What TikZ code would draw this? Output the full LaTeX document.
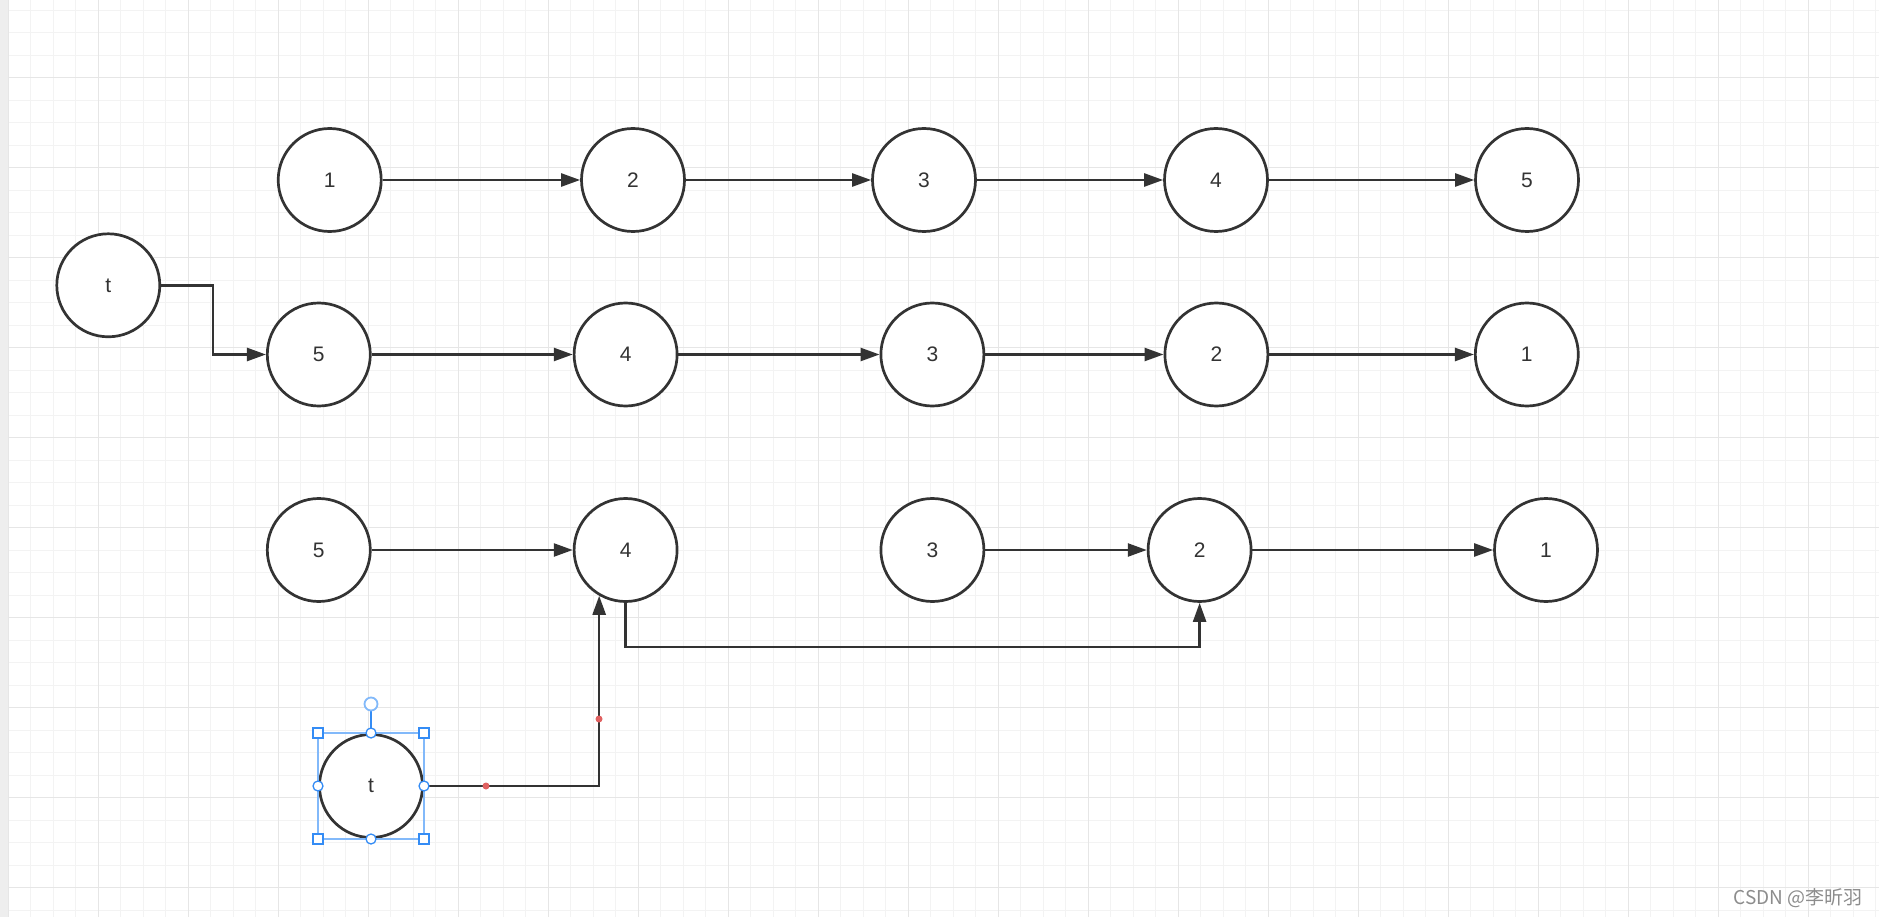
\documentclass[tikz,border=0pt]{standalone}
\usepackage{fontspec}
\setmainfont{Liberation Sans}
\newfontfamily\cjk{Noto Sans CJK SC}
\definecolor{LineColor}{RGB}{51,51,51}
\definecolor{MinorGrid}{RGB}{243,243,243}
\definecolor{MajorGrid}{RGB}{230,230,230}
\definecolor{SideColor}{RGB}{238,238,238}
\definecolor{HandleColor}{RGB}{52,140,245}
\definecolor{FrameColor}{RGB}{130,185,250}
\definecolor{DotColor}{RGB}{224,96,96}
\definecolor{MarkColor}{RGB}{140,140,140}
\usetikzlibrary{arrows.meta}
\tikzstyle{listnode} = [circle, draw=LineColor, line width=2.7pt, fill=white, minimum size=103pt, inner sep=0pt, text=LineColor, font=\fontsize{21}{24}\selectfont]
\tikzstyle{linkarrow} = [line width=2.5pt, LineColor, -{Triangle[length=19pt,width=13pt]}]
\tikzstyle{handlebox} = [draw=HandleColor, fill=white, line width=1.3pt]

\begin{document}
\begin{tikzpicture}[x=1pt, y=-1pt]
            \useasboundingbox (0,0) rectangle (1879,917);
            \fill[white] (0,0) rectangle (1879,917);

            % Grid
            \foreach \i in {0,...,83}
                \draw[MinorGrid, line width=1.2pt] ({8.3+22.5*\i},0) -- ++(0,917);
            \foreach \i in {0,...,41}
                \draw[MinorGrid, line width=1.2pt] (0,{10.2+22.5*\i}) -- ++(1879,0);
            \foreach \i in {0,...,20}
                \draw[MajorGrid, line width=1.3pt] ({8.3+90*\i},0) -- ++(0,917);
            \foreach \i in {0,...,10}
                \draw[MajorGrid, line width=1.3pt] (0,{77.7+90*\i}) -- ++(1879,0);
            \fill[SideColor] (0,0) rectangle (8,917);

            % First list
            \node[listnode] (a1) at (329.7,180) {1};
            \node[listnode] (a2) at (633,180) {2};
            \node[listnode] (a3) at (924,180) {3};
            \node[listnode] (a4) at (1216,180) {4};
            \node[listnode] (a5) at (1527,180) {5};
            \draw[linkarrow] (a1) -- (a2);
            \draw[linkarrow] (a2) -- (a3);
            \draw[linkarrow] (a3) -- (a4);
            \draw[linkarrow] (a4) -- (a5);

            % Reversed list
            \node[listnode] (ta) at (108.3,285.3) {t};
            \node[listnode] (b5) at (318.8,354.5) {5};
            \node[listnode] (b4) at (625.6,354.5) {4};
            \node[listnode] (b3) at (932.4,354.5) {3};
            \node[listnode] (b2) at (1216.4,354.5) {2};
            \node[listnode] (b1) at (1526.8,354.5) {1};
            \draw[linkarrow] (ta.east) -- ++(52,0) |- (b5.west);
            \draw[linkarrow] (b5) -- (b4);
            \draw[linkarrow] (b4) -- (b3);
            \draw[linkarrow] (b3) -- (b2);
            \draw[linkarrow] (b2) -- (b1);

            % Reversing step
            \node[listnode] (c5) at (318.8,550) {5};
            \node[listnode] (c4) at (625.6,550) {4};
            \node[listnode] (c3) at (932.4,550) {3};
            \node[listnode] (c2) at (1199.6,550) {2};
            \node[listnode] (c1) at (1546,550) {1};
            \node[listnode] (tb) at (371,786) {t};
            \draw[linkarrow] (c5) -- (c4);
            \draw[linkarrow] (c3) -- (c2);
            \draw[linkarrow] (c2) -- (c1);
            \draw[linkarrow] (c4.south) -- ++(0,44) -| (c2.south);
            \draw[linkarrow] (tb.east) -| (c4.240);

            % Selection handles
            \draw[FrameColor, line width=1.1pt] (318,733) rectangle (424,839);
            \draw[HandleColor, line width=1.5pt] (371,711) -- (371,733);
            \draw[handlebox, draw=FrameColor, line width=1.8pt] (371,704) circle (6.5pt);
            \foreach \p in {(318,733),(424,733),(318,839),(424,839)}
                \draw[handlebox] \p ++(-5,-5) rectangle ++(10,10);
            \foreach \p in {(371,733),(318,786),(424,786),(371,839)}
                \draw[handlebox] \p circle (5pt);
            \fill[DotColor] (486,786) circle (3.5pt);
            \fill[DotColor] (599,719) circle (3.5pt);

            % Watermark
            \node[anchor=east, text=MarkColor, font=\cjk\fontsize{19}{22}\selectfont] (mark) at (1866,898) {CSDN @李昕羽};
        \end{tikzpicture}
\end{document}
